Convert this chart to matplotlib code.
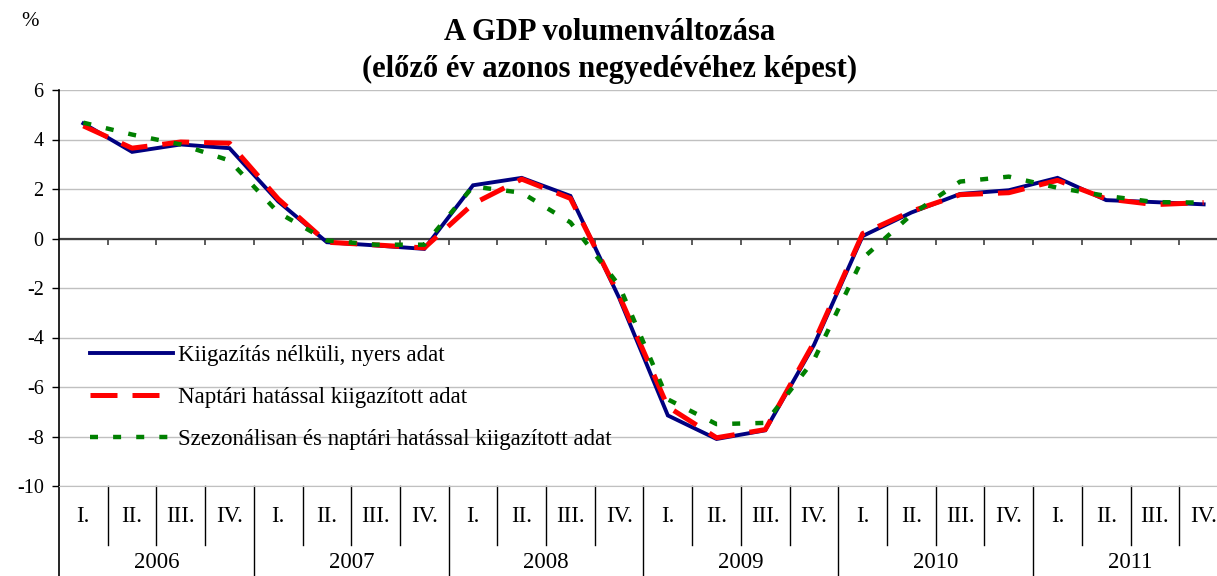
import matplotlib
matplotlib.use("Agg")
import matplotlib.pyplot as plt
import matplotlib.transforms as mtransforms
import numpy as np

plt.rcParams['font.family'] = ['Liberation Serif', 'DejaVu Serif']
plt.rcParams['axes.unicode_minus'] = False

# ---- data ----
years = ["2006", "2007", "2008", "2009", "2010", "2011"]
quarters = ["I.", "II.", "III.", "IV."]
raw = [4.65, 3.5, 3.8, 3.65, 1.5, -0.15, -0.28, -0.42,
       2.15, 2.45, 1.72, -2.4, -7.15, -8.1, -7.75, -4.3,
       0.1, 1.05, 1.8, 1.95, 2.45, 1.55, 1.47, 1.38]
calendar = [4.55, 3.65, 3.9, 3.85, 1.6, -0.15, -0.26, -0.38,
            1.4, 2.4, 1.62, -2.3, -6.8, -8.05, -7.72, -4.2,
            0.2, 1.1, 1.77, 1.85, 2.35, 1.6, 1.37, 1.45]
seasonal = [4.68, 4.2, 3.8, 3.15, 1.05, -0.08, -0.25, -0.25,
            2.1, 1.85, 0.65, -1.9, -6.5, -7.5, -7.45, -4.9,
            -0.8, 0.96, 2.3, 2.5, 2.05, 1.72, 1.47, 1.45]
labels = ["Kiigazítás nélküli, nyers adat",
          "Naptári hatással kiigazított adat",
          "Szezonálisan és naptári hatással kiigazított adat"]
title = "A GDP volumenváltozása\n(előző év azonos negyedévéhez képest)"
yticks = [6, 4, 2, 0, -2, -4, -6, -8, -10]

W, H = 1217, 576
fig = plt.figure(figsize=(W / 100, H / 100), dpi=100)
x0, x1, ytop, ybot = 59, 1228, 90, 486
ax = fig.add_axes([x0 / W, (H - ybot) / H, (x1 - x0) / W, (ybot - ytop) / H])

n = len(raw)
x = np.arange(n)
ax.set_xlim(-0.5, n - 0.5)
ax.set_ylim(-10, 6)

ax.plot(x, raw, color='#000080', lw=2.8, label=labels[0], zorder=3,
        solid_joinstyle='miter')
ax.plot(x, calendar, color='#FF0000', lw=3.6, dashes=(5.4, 3.0),
        label=labels[1], zorder=4)
ax.plot(x, seasonal, color='#008000', lw=3.2, dashes=(1.8, 3.4),
        label=labels[2], zorder=5)

# grid
ax.set_yticks(yticks)
ax.set_yticklabels([str(t) for t in yticks], fontsize=14.5)
ax.yaxis.grid(True, color='#c0c0c0', lw=1.0)
ax.set_axisbelow(True)
ax.tick_params(axis='y', length=5, width=1, pad=6, direction='out')
ax.set_xticks([])
for s in ['top', 'right']:
    ax.spines[s].set_visible(False)
ax.spines['bottom'].set_color('#c0c0c0')
ax.spines['left'].set_color('black')
ax.spines['left'].set_linewidth(1.2)

# zero line with tick marks at quarter boundaries
ax.axhline(0, color='#404040', lw=1.6, zorder=2)
ax.vlines(np.arange(0.5, n - 0.5, 1), -0.28, 0, color='#404040', lw=1.2, zorder=2)

# category axis below
tr = mtransforms.blended_transform_factory(ax.transData, ax.transAxes)
q_y = -(517 - ybot) / (ybot - ytop)
yr_y = -(562 - ybot) / (ybot - ytop)
qsep = -(545 - ybot) / (ybot - ytop)
ysep = -(580 - ybot) / (ybot - ytop)
for i in range(n):
    ax.text(i, q_y, quarters[i % 4], transform=tr, ha='center', va='center',
            fontsize=16.5)
for j, yr in enumerate(years):
    ax.text(j * 4 + 1.5, yr_y, yr, transform=tr, ha='center', va='center',
            fontsize=16.5)
for b in np.arange(0.5, n - 0.5, 1):
    if (b + 0.5) % 4 == 0:
        ax.plot([b, b], [0, ysep], transform=tr, color='black', lw=1.0, clip_on=False)
    else:
        ax.plot([b, b], [0, qsep], transform=tr, color='black', lw=1.0, clip_on=False)
ax.plot([-0.5, -0.5], [0, ysep], transform=tr, color='black', lw=1.2, clip_on=False)

# legend
leg = ax.legend(loc='upper left',
                bbox_to_anchor=((90 - x0) / (x1 - x0), (ybot - 345) / (ybot - ytop)),
                frameon=False, fontsize=16.5, handlelength=3.6, handletextpad=0.26,
                labelspacing=0.92, borderpad=0, borderaxespad=0)

# title and unit
fig.text(610 / W, 1 - 51 / H, title, ha='center', va='center', fontsize=22,
         fontweight='bold', linespacing=1.4)
fig.text(30 / W, 1 - 22 / H, "%", ha='center', va='center', fontsize=15)

fig.savefig("out.png", dpi=100)
